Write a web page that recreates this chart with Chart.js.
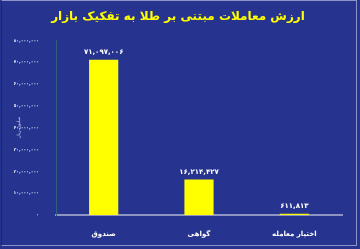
<!DOCTYPE html>
<html lang="fa">
<head>
  <meta charset="UTF-8" />
  <title>ارزش معاملات مبتنی بر طلا</title>
  <style>
    html, body { margin: 0; padding: 0; background: #26348f; }
    .frame { position: absolute; left: 1px; top: 0; width: 356px; height: 246px; border: 1px solid #8d93c4; border-left-color: #1c2670; box-sizing: border-box; }
    .wrap { position: absolute; left: 0; top: 0; width: 360px; height: 249px; }
  </style>
</head>
<body>
  <div class="frame"></div>
  <div class="wrap"><canvas id="myChart"></canvas></div>
  <script src="https://cdn.jsdelivr.net/npm/chart.js"></script>
  <script>
    const titleText = 'ارزش معاملات مبتنی بر طلا به تفکیک بازار';
    const markets = ['صندوق', 'گواهی', 'اختیار معامله'];
    const tradeValues = [71097006, 16214427, 611813];
    const yAxisName = 'میلیون ریال';

    // اعداد فارسی با جداکننده هزارگان
    function toFa(n) {
      const s = Math.round(n).toString().replace(/\B(?=(\d{3})+(?!\d))/g, ',');
      return s.replace(/\d/g, d => '۰۱۲۳۴۵۶۷۸۹'[d]);
    }

    const valueLabels = {
      id: 'valueLabels',
      afterDatasetsDraw(chart) {
        const ctx = chart.ctx;
        const meta = chart.getDatasetMeta(0);
        ctx.save();
        ctx.fillStyle = '#ffffff';
        ctx.font = 'bold 7px "DejaVu Sans"';
        ctx.textAlign = 'center';
        ctx.textBaseline = 'bottom';
        meta.data.forEach((bar, i) => {
          ctx.fillText(toFa(tradeValues[i]), bar.x, bar.y - 4);
        });
        ctx.restore();
      }
    };

    const ctx = document.getElementById('myChart').getContext('2d');
    new Chart(ctx, {
      type: 'bar',
      data: {
        labels: markets,
        datasets: [{
          data: tradeValues,
          backgroundColor: '#ffff00',
          barPercentage: 0.6,
          categoryPercentage: 0.51
        }]
      },
      options: {
        responsive: true,
        maintainAspectRatio: false,
        animation: false,
        layout: { padding: { top: 0, right: 18, bottom: 0, left: 14 } },
        plugins: {
          legend: { display: false },
          tooltip: { enabled: false },
          title: {
            display: true,
            text: titleText,
            color: '#ffff00',
            font: { family: 'DejaVu Sans', size: 12, weight: 'bold' },
            padding: { top: 10, bottom: 16 }
          }
        },
        scales: {
          x: {
            grid: { display: false },
            border: { display: true, color: '#8e94c2', width: 2 },
            afterFit: s => { s.height = 34; },
            ticks: {
              color: '#ffffff',
              font: { family: 'DejaVu Sans', size: 7, weight: 'bold' },
              padding: 7
            }
          },
          y: {
            min: 0,
            max: 80000000,
            grid: { display: false },
            border: { display: true, color: '#2f5f80', width: 1 },
            afterFit: s => { s.width = 42; },
            ticks: {
              stepSize: 10000000,
              color: '#e8e8f4',
              font: { family: 'DejaVu Sans', size: 4.5, weight: 'bold' },
              padding: 9,
              callback: v => toFa(v)
            },
            title: {
              display: true,
              text: yAxisName,
              color: '#d0d4ee',
              font: { family: 'DejaVu Sans', size: 4.5 },
              padding: 2
            }
          }
        }
      },
      plugins: [valueLabels]
    });
  </script>
</body>
</html>
